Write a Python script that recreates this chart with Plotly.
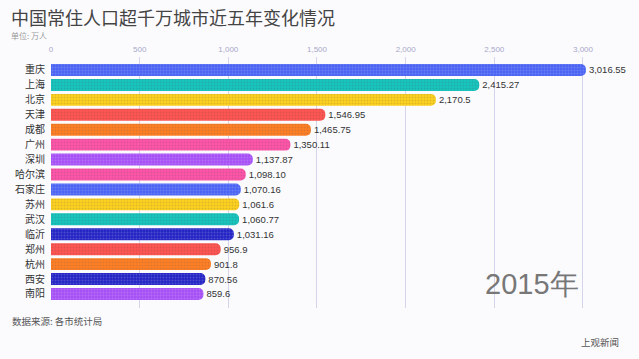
import plotly.graph_objects as go

cities = ["重庆", "上海", "北京", "天津", "成都", "广州", "深圳", "哈尔滨",
          "石家庄", "苏州", "武汉", "临沂", "郑州", "杭州", "西安", "南阳"]
values = [3016.55, 2415.27, 2170.5, 1546.95, 1465.75, 1350.11, 1137.87, 1098.10,
          1070.16, 1061.6, 1060.77, 1031.16, 956.9, 901.8, 870.56, 859.6]
value_labels = ["3,016.55", "2,415.27", "2,170.5", "1,546.95", "1,465.75", "1,350.11",
                "1,137.87", "1,098.10", "1,070.16", "1,061.6", "1,060.77", "1,031.16",
                "956.9", "901.8", "870.56", "859.6"]
colors = ["#4a63f3", "#17c6be", "#ffd21f", "#ff5552", "#ff8026", "#ff55aa", "#a54ff5",
          "#ff55aa", "#4a63f3", "#ffd21f", "#17c6be", "#2424c4", "#ff5552", "#ff8026",
          "#2424c4", "#a54ff5"]
tick_vals = [0, 500, 1000, 1500, 2000, 2500, 3000]
tick_text = ["0", "500", "1,000", "1,500", "2,000", "2,500", "3,000"]
year = "2015年"

font = "Noto Sans CJK SC"
numfont = "Liberation Sans, Arial, sans-serif"

fig = go.Figure(go.Bar(
    y=cities, x=values, orientation="h",
    marker=dict(color=colors, line=dict(width=0),
                pattern=dict(shape=".", fillmode="overlay", fgcolor="#ffffff",
                             fgopacity=0.18, size=3, solidity=0.35)),
    width=0.8,
    text=value_labels, textposition="outside",
    textfont=dict(size=9.5, color="#333333", family=numfont),
    cliponaxis=False,
))

fig.update_layout(
    width=639, height=359,
    margin=dict(l=51, r=50, t=57, b=51, autoexpand=False),
    paper_bgcolor="#fbfbfe", plot_bgcolor="#fbfbfe",
    barcornerradius=6,
    showlegend=False,
    font=dict(family=font),
    xaxis=dict(side="top", range=[0, 3034], tickvals=tick_vals, ticktext=tick_text,
               tickfont=dict(size=8, color="#a8a8c8", family=numfont), showgrid=True,
               gridcolor="#d4d4ea", gridwidth=1, zeroline=False, showline=False,
               ticks="", ticklabelstandoff=2, automargin=False),
    yaxis=dict(range=[15.94, -0.87], tickfont=dict(size=10, color="#333333"),
               showgrid=False, zeroline=False, showline=False, ticks="",
               ticklabelstandoff=5, automargin=False,
               categoryorder="array", categoryarray=cities),
    annotations=[
        dict(text="中国常住人口超千万城市近五年变化情况", xref="paper", yref="paper",
             showarrow=False, font=dict(size=18, color="#444444"), xanchor="left",
             yanchor="middle", borderpad=0),
        dict(text="单位: 万人", xref="paper", yref="paper", showarrow=False,
             font=dict(size=8, color="#999999"), xanchor="left", yanchor="middle", borderpad=0),
        dict(text="数据来源: 各市统计局", xref="paper", yref="paper", showarrow=False,
             font=dict(size=9.5, color="#555555"), xanchor="left", yanchor="middle"),
        dict(text="上观新闻", xref="paper", yref="paper", showarrow=False,
             font=dict(size=9.5, color="#555555"), xanchor="right", yanchor="middle"),
        dict(text=year, xref="paper", yref="paper", showarrow=False,
             font=dict(size=29, color="#777777", family=numfont), xanchor="right", yanchor="middle"),
    ],
)

pw = 639 - 51 - 50
ph = 359 - 57 - 51
def px(x): return (x - 51) / pw
def py(y): return (359 - 51 - y) / ph

pos = [(10, 17), (10, 35), (10, 321), (621, 342), (581, 284)]
for ann, (x, y) in zip(fig.layout.annotations, pos):
    ann.x = px(x)
    ann.y = py(y)

fig.write_html("out.html", config={"displayModeBar": False},
               post_script="document.body.style.margin='0';document.body.style.background='#fbfbfe';")
